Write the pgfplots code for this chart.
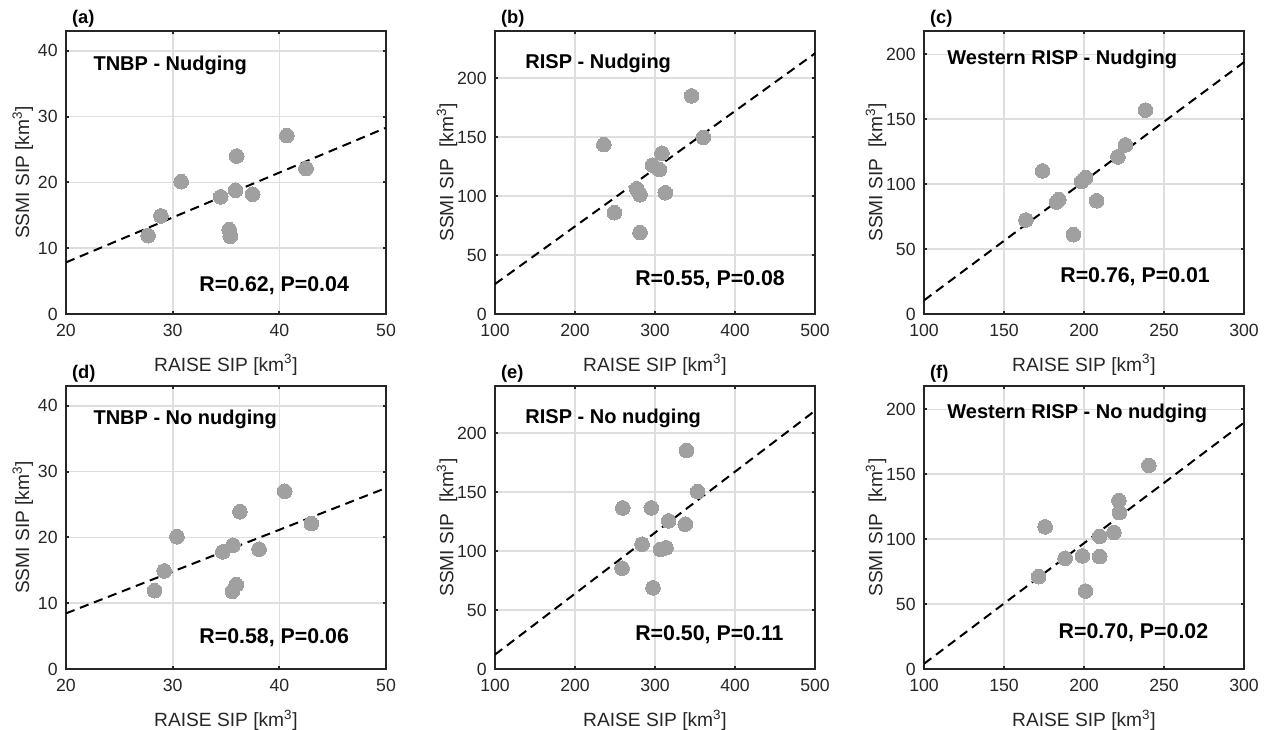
\documentclass[border=0pt]{standalone}
\usepackage{fontspec}
\setmainfont{Liberation Sans}
\usepackage{pgfplots}
\pgfplotsset{compat=1.18}
\definecolor{axc}{RGB}{38,38,38}
\definecolor{gridc}{RGB}{222,222,222}
\definecolor{dotc}{RGB}{160,160,160}

\newcommand{\labfont}{\fontsize{11.5}{13}\selectfont}
\pgfplotsset{
  sip/.style={
    scale only axis, width=192pt, height=169.8pt,
    axis line style={draw=axc, line width=1.5pt},
    grid=major, major grid style={draw=gridc, line width=1pt},
    tick align=inside, major tick length=2pt,
    tick style={draw=axc, line width=1.2pt},
    ticklabel style={font=\fontsize{10.6}{12}\selectfont, text=axc},
    xticklabel style={yshift=-2.5pt},
    yticklabel style={xshift=-1.5pt},
    /pgf/number format/assume math mode=true,
    xlabel={RAISE SIP [km\textsuperscript{3}]},
    every axis x label/.style={at={(axis description cs:0.5,-0.18)}, anchor=center,
      font=\labfont, text=axc},
    title style={at={(axis description cs:0.018,1)}, anchor=south west, yshift=-4pt,
      font=\bfseries\fontsize{11}{12}\selectfont, inner sep=0pt},
  },
  tnbp/.style={sip, xmin=20, xmax=50, ymin=0, ymax=43,
    xtick={20,30,40,50}, ytick={0,10,20,30,40},
    ylabel={SSMI SIP [km\textsuperscript{3}]},
    every axis y label/.style={at={(axis description cs:-0.135,0.5)}, anchor=center,
      rotate=90, font=\labfont, text=axc}},
  risp/.style={sip, xmin=100, xmax=500, ymin=0, ymax=240,
    xtick={100,200,300,400,500}, ytick={0,50,100,150,200},
    ylabel={SSMI SIP \ [km\textsuperscript{3}]},
    every axis y label/.style={at={(axis description cs:-0.15,0.5)}, anchor=center,
      rotate=90, font=\labfont, text=axc}},
  wrisp/.style={sip, xmin=100, xmax=300, ymin=0, ymax=218,
    xtick={100,150,200,250,300}, ytick={0,50,100,150,200},
    ylabel={SSMI SIP \ [km\textsuperscript{3}]},
    every axis y label/.style={at={(axis description cs:-0.15,0.5)}, anchor=center,
      rotate=90, font=\labfont, text=axc}},
  dots/.style={only marks, color=dotc, mark=*, mark size=4.4pt,
    mark options={draw=dotc, fill=dotc, line width=0pt}},
  fitline/.style={no marks, black, line width=1.2pt, dash pattern=on 5.5pt off 3.5pt},
}
\tikzset{
  ptitle/.style={anchor=west, inner sep=0pt, font=\bfseries\fontsize{12}{14}\selectfont},
  rtext/.style={anchor=west, inner sep=0pt, font=\bfseries\fontsize{12.8}{14}\selectfont},
}

\begin{document}
\begin{tikzpicture}
\useasboundingbox (0,0) rectangle (764.4pt,438pt);

% (a)
\begin{axis}[tnbp, at={(39.6pt,249.6pt)}, anchor=south west, title={(a)}]
\addplot[dots] coordinates {(27.7,11.9) (28.9,14.9) (30.8,20.1) (34.5,17.8) (35.3,12.8) (35.4,11.8) (35.9,18.8) (36.0,24.0) (37.5,18.2) (40.7,27.1) (42.5,22.1)};
\addplot[fitline] coordinates {(20,7.84) (50,28.3)};
\node[ptitle] at (rel axis cs:0.085,0.88) {TNBP - Nudging};
\node[rtext] at (rel axis cs:0.416,0.10) {R=0.62, P=0.04};
\end{axis}

% (b)
\begin{axis}[risp, at={(297pt,249.6pt)}, anchor=south west, title={(b)}]
\addplot[dots] coordinates {(236,143.6) (249.3,85.9) (277.1,106.2) (281.3,101.1) (281.3,69.0) (297.1,126.2) (305.4,122.5) (308.7,136.3) (312.9,102.8) (345.7,185.0) (360.3,149.8)};
\addplot[fitline] coordinates {(100,25.4) (500,221)};
\node[ptitle] at (rel axis cs:0.094,0.887) {RISP - Nudging};
\node[rtext] at (rel axis cs:0.4375,0.12) {R=0.55, P=0.08};
\end{axis}

% (c)
\begin{axis}[wrisp, at={(554.4pt,249.6pt)}, anchor=south west, title={(c)}]
\addplot[dots] coordinates {(163.7,72.4) (174.1,110.2) (182.8,86.2) (184.2,88.0) (193.4,61.1) (198.5,102.0) (201.0,105.0) (207.9,87.2) (221.2,121.0) (225.9,130.2) (238.4,157.0)};
\addplot[fitline] coordinates {(100,10.5) (300,194)};
\node[ptitle] at (rel axis cs:0.072,0.90) {Western RISP - Nudging};
\node[rtext] at (rel axis cs:0.425,0.13) {R=0.76, P=0.01};
\end{axis}

% (d)
\begin{axis}[tnbp, at={(39.6pt,36.6pt)}, anchor=south west, title={(d)}]
\addplot[dots] coordinates {(28.3,11.9) (29.2,14.9) (30.4,20.1) (34.7,17.8) (35.65,18.8) (35.6,11.8) (35.96,12.8) (36.3,23.9) (38.1,18.2) (40.5,27.0) (43.0,22.1)};
\addplot[fitline] coordinates {(20,8.45) (50,27.5)};
\node[ptitle] at (rel axis cs:0.085,0.883) {TNBP - No nudging};
\node[rtext] at (rel axis cs:0.416,0.11) {R=0.58, P=0.06};
\end{axis}

% (e)
\begin{axis}[risp, at={(297pt,36.6pt)}, anchor=south west, title={(e)}]
\addplot[dots] coordinates {(259.7,136.6) (258.8,85.4) (283.8,105.9) (295.4,136.6) (297.5,68.8) (306.7,101.4) (313.7,102.8) (317.0,125.6) (337.8,122.8) (339.5,185.3) (353.2,150.4)};
\addplot[fitline] coordinates {(100,12.2) (500,219)};
\node[ptitle] at (rel axis cs:0.094,0.887) {RISP - No nudging};
\node[rtext] at (rel axis cs:0.4375,0.12) {R=0.50, P=0.11};
\end{axis}

% (f)
\begin{axis}[wrisp, at={(554.4pt,36.6pt)}, anchor=south west, title={(f)}]
\addplot[dots] coordinates {(171.6,71.1) (175.7,109.5) (188.2,85.3) (199.0,87.1) (201.0,60.0) (209.8,102.1) (209.8,86.6) (218.7,105.2) (221.8,129.7) (222.2,120.6) (240.5,156.8)};
\addplot[fitline] coordinates {(100,4.0) (300,189.8)};
\node[ptitle] at (rel axis cs:0.072,0.905) {Western RISP - No nudging};
\node[rtext] at (rel axis cs:0.42,0.13) {R=0.70, P=0.02};
\end{axis}
\end{tikzpicture}
\end{document}
